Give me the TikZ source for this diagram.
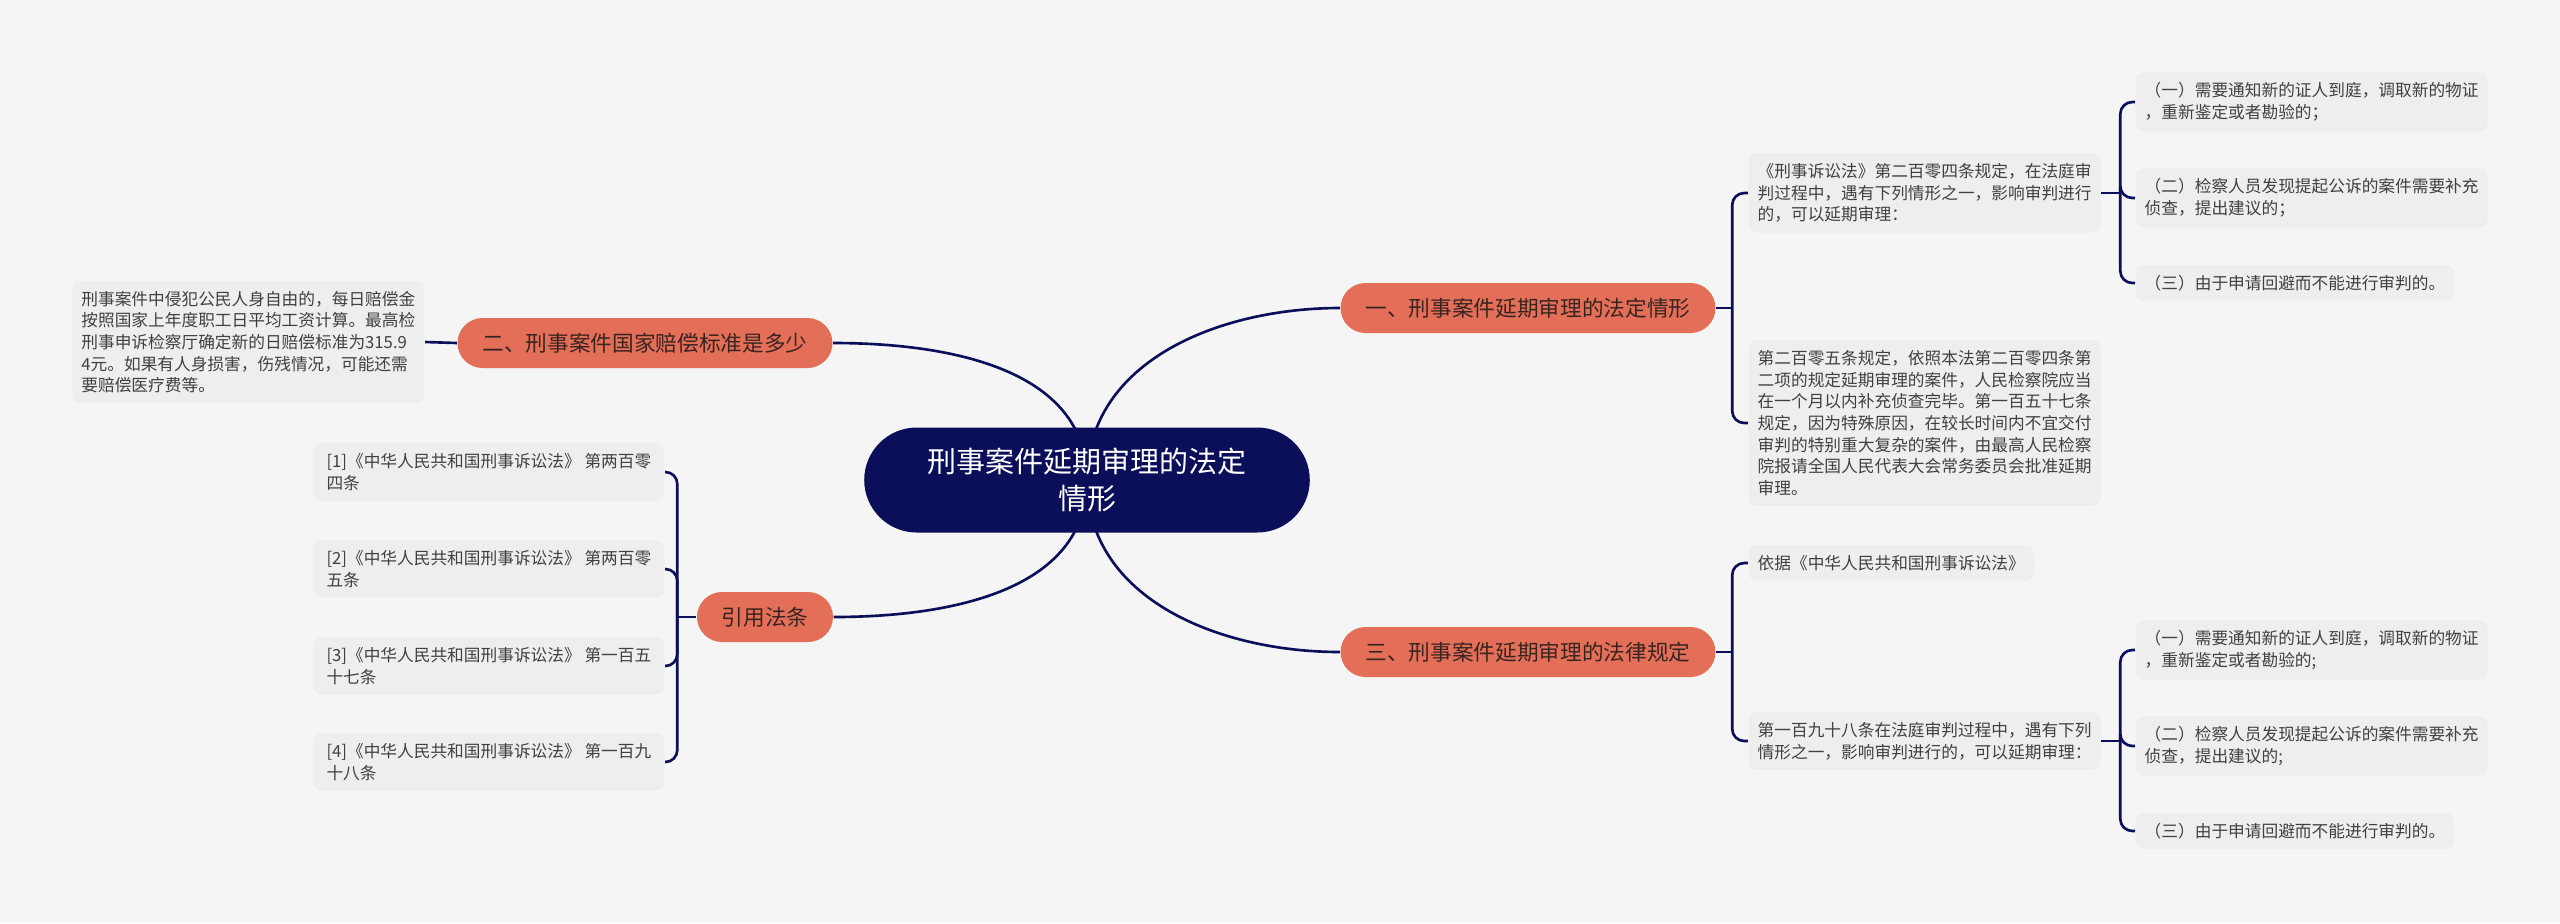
\documentclass[tikz,border=0pt]{standalone}
\usepackage{fontspec}
\setmainfont{Noto Sans CJK SC}
\usetikzlibrary{shapes.misc,backgrounds}
\definecolor{bgcol}{HTML}{F5F5F5}
\definecolor{navy}{HTML}{0B0E58}
\definecolor{coral}{HTML}{E36F59}
\definecolor{coraltxt}{HTML}{3A2420}
\definecolor{boxcol}{HTML}{EEEEEE}
\definecolor{leaftxt}{HTML}{404040}

\begin{document}
\begin{tikzpicture}[
    link/.style={draw=navy, line width=0.75pt, rounded corners=0.12cm},
    leaf/.style={fill=boxcol, rounded corners=0.08cm, align=left, text=leaftxt,
      inner xsep=0.09cm, inner ysep=0.1cm, font=\fontsize{4.75}{6.17}\selectfont},
    branch/.style={shape=rounded rectangle, fill=coral, text=coraltxt, minimum height=0.5cm,
      inner sep=0pt, font=\fontsize{6.17}{7.5}\selectfont}]
    \useasboundingbox (0,0) rectangle (25.6,-9.23);
    % centro
    \node[shape=rounded rectangle, fill=navy, text=white, minimum width=4.69cm, minimum height=1.05cm,
      align=center, font=\fontsize{8.25}{10.5}\selectfont] (root) at (10.87,-4.80) {刑事案件延期审理的法定\\情形};
    % ramos
    \node[branch, minimum width=3.75cm] (b1) at (15.28,-3.08) {一、刑事案件延期审理的法定情形};
    \node[branch, minimum width=3.75cm] (b2) at (6.45,-3.43) {二、刑事案件国家赔偿标准是多少};
    \node[branch, minimum width=3.75cm] (b3) at (15.28,-6.52) {三、刑事案件延期审理的法律规定};
    \node[branch, minimum width=1.36cm] (b4) at (7.65,-6.17) {引用法条};
    % folhas do ramo 1
    \node[leaf, anchor=west] (c11) at (17.48,-1.93) {《刑事诉讼法》第二百零四条规定，在法庭审\\判过程中，遇有下列情形之一，影响审判进行\\的，可以延期审理：};
    \node[leaf, anchor=west] (c12) at (17.48,-4.23) {第二百零五条规定，依照本法第二百零四条第\\二项的规定延期审理的案件，人民检察院应当\\在一个月以内补充侦查完毕。第一百五十七条\\规定，因为特殊原因，在较长时间内不宜交付\\审判的特别重大复杂的案件，由最高人民检察\\院报请全国人民代表大会常务委员会批准延期\\审理。};
    \node[leaf, anchor=west] (i1) at (21.35,-1.02) {（一）需要通知新的证人到庭，调取新的物证\\，重新鉴定或者勘验的；};
    \node[leaf, anchor=west] (i2) at (21.35,-1.98) {（二）检察人员发现提起公诉的案件需要补充\\侦查，提出建议的；};
    \node[leaf, anchor=west] (i3) at (21.35,-2.83) {（三）由于申请回避而不能进行审判的。};
    % folhas do ramo 3
    \node[leaf, anchor=west] (c31) at (17.48,-5.63) {依据《中华人民共和国刑事诉讼法》};
    \node[leaf, anchor=west] (c32) at (17.48,-7.41) {第一百九十八条在法庭审判过程中，遇有下列\\情形之一，影响审判进行的，可以延期审理：};
    \node[leaf, anchor=west] (j1) at (21.35,-6.50) {（一）需要通知新的证人到庭，调取新的物证\\，重新鉴定或者勘验的;};
    \node[leaf, anchor=west] (j2) at (21.35,-7.46) {（二）检察人员发现提起公诉的案件需要补充\\侦查，提出建议的;};
    \node[leaf, anchor=west] (j3) at (21.35,-8.31) {（三）由于申请回避而不能进行审判的。};
    % folha do ramo 2
    \node[leaf, anchor=east] (d21) at (4.25,-3.42) {刑事案件中侵犯公民人身自由的，每日赔偿金\\按照国家上年度职工日平均工资计算。最高检\\刑事申诉检察厅确定新的日赔偿标准为315.9\\4元。如果有人身损害，伤残情况，可能还需\\要赔偿医疗费等。};
    % referencias
    \foreach \k/\y/\a/\b in {1/-4.72/第两百零/四条,2/-5.69/第两百零/五条,3/-6.66/第一百五/十七条,4/-7.62/第一百九/十八条}
      \node[leaf, anchor=east, inner xsep=0.13cm] (r\k) at (6.65,\y) {[\k]《中华人民共和国刑事诉讼法》 \a\\\b};
    % ligacoes
    \begin{scope}[on background layer]
      \fill[bgcol] (0,0) rectangle (25.6,-9.23);
      \draw[link] (root.center) to[out=90,in=180] (b1.west);
      \draw[link] (root.center) to[out=90,in=0] (b2.east);
      \draw[link] (root.center) to[out=-90,in=180] (b3.west);
      \draw[link] (root.center) to[out=-90,in=0] (b4.east);
      \draw[link] (d21.east) -- (b2.west);
      \draw[link] (b1.east) -- ++(0.16,0) coordinate (k1);
      \foreach \n in {c11,c12} \draw[link] (k1) |- (\n.west);
      \draw[link] (b3.east) -- ++(0.16,0) coordinate (k3);
      \foreach \n in {c31,c32} \draw[link] (k3) |- (\n.west);
      \draw[link] (b4.west) -- ++(-0.19,0) coordinate (k4);
      \foreach \n in {r1,r2,r3,r4} \draw[link] (k4) |- (\n.east);
      \draw[link] (c11.east) -- ++(0.19,0) coordinate (k11);
      \foreach \n in {i1,i2,i3} \draw[link] (k11) |- (\n.west);
      \draw[link] (c32.east) -- ++(0.19,0) coordinate (k32);
      \foreach \n in {j1,j2,j3} \draw[link] (k32) |- (\n.west);
    \end{scope}
\end{tikzpicture}
\end{document}
